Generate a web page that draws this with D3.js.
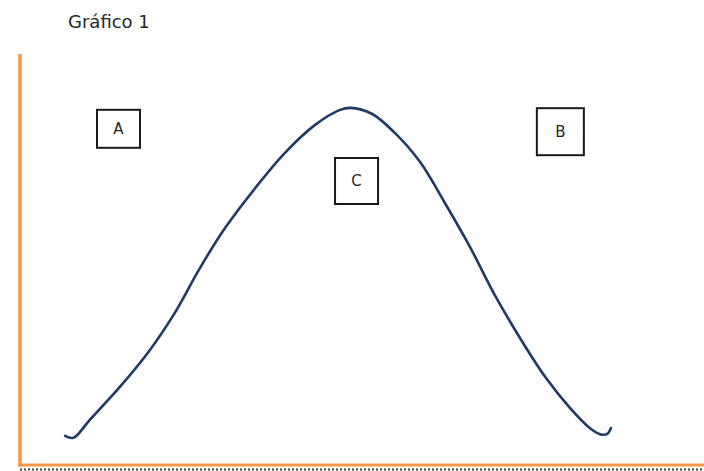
<!DOCTYPE html>
<html>
<head>
<meta charset="utf-8">
<script src="https://cdn.jsdelivr.net/npm/d3@7"></script>
<style>
  html, body { margin: 0; padding: 0; background: #fff; }
  svg { display: block; }
</style>
</head>
<body>
<div id="chart"></div>
<script>
// Curve values (abstract units 0-100 on both axes)
let curveX = [6.6, 7.8, 10.2, 14.6, 19.0, 22.7, 26.3, 30.0, 34.4, 38.7, 43.1, 46.8, 48.3,
              51.5, 54.8, 58.5, 62.1, 65.8, 69.4, 73.1, 76.8, 80.4, 83.3, 84.8, 85.8, 86.4];
let curveY = [7.1, 6.6, 11.0, 19.0, 28.0, 37.2, 47.9, 57.7, 67.4, 75.9, 82.7, 86.4, 86.9,
              85.4, 80.8, 73.7, 63.8, 53.0, 41.4, 30.9, 21.4, 13.9, 9.0, 7.5, 7.5, 9.0];

// Boxed labels and where they sit (same units)
let labels = ["A", "B", "C"];
let labelX = [14.4, 79.0, 49.2];
let labelY = [81.8, 81.1, 69.1];

let title = "Gráfico 1";

let WIDTH = 704,
    HEIGHT = 471,
    LEFT = 20,
    RIGHT = 704,
    TOP = 54,
    BOTTOM = 465;

let svg = d3.select('#chart')
    .append('svg')
    .attr('width', WIDTH)
    .attr('height', HEIGHT);

let x = d3.scaleLinear().domain([0, 100]).range([LEFT, RIGHT]);
let y = d3.scaleLinear().domain([0, 100]).range([BOTTOM, TOP]);

// Title
svg.append('text')
    .attr('x', 68)
    .attr('y', 28)
    .attr('font-family', 'DejaVu Sans, sans-serif')
    .attr('font-size', 18)
    .attr('fill', '#262626')
    .text(title);

// Dotted border under the bottom axis
svg.append('line')
    .attr('x1', x(0))
    .attr('x2', x(100))
    .attr('y1', BOTTOM + 4.5)
    .attr('y2', BOTTOM + 4.5)
    .attr('stroke', '#4a3a30')
    .attr('stroke-width', 2)
    .attr('stroke-dasharray', '2,2');

// Axes (plain orange lines, no ticks)
let axisColor = '#f79646';

svg.append('line')
    .attr('x1', x(0))
    .attr('x2', x(0))
    .attr('y1', y(100))
    .attr('y2', y(0) + 1.5)
    .attr('stroke', axisColor)
    .attr('stroke-width', 3.5);

svg.append('line')
    .attr('x1', x(0) - 1.75)
    .attr('x2', x(100))
    .attr('y1', y(0))
    .attr('y2', y(0))
    .attr('stroke', axisColor)
    .attr('stroke-width', 3);

// The curve
let points = curveX.map((v, i) => [v, curveY[i]]);

let line = d3.line()
    .x(d => x(d[0]))
    .y(d => y(d[1]))
    .curve(d3.curveCatmullRom.alpha(0.5));

svg.append('path')
    .datum(points)
    .attr('d', line)
    .attr('fill', 'none')
    .attr('stroke', '#1f3a63')
    .attr('stroke-width', 2.6)
    .attr('stroke-linecap', 'round')
    .attr('stroke-linejoin', 'round');

// Boxed labels
let boxSize = {A: [43, 38], B: [47, 47], C: [43, 46]};

let box = svg.selectAll('.label-box')
    .data(labels)
    .enter()
    .append('g')
    .classed('label-box', true)
    .attr('transform', (d, i) => `translate(${x(labelX[i])},${y(labelY[i])})`);

box.append('rect')
    .attr('x', d => -boxSize[d][0] / 2)
    .attr('y', d => -boxSize[d][1] / 2)
    .attr('width', d => boxSize[d][0])
    .attr('height', d => boxSize[d][1])
    .attr('fill', '#fff')
    .attr('stroke', '#1a1a1a')
    .attr('stroke-width', 2);

box.append('text')
    .attr('text-anchor', 'middle')
    .attr('dy', '0.36em')
    .attr('font-family', 'DejaVu Sans, sans-serif')
    .attr('font-size', 15)
    .attr('fill', '#262626')
    .text(d => d);
</script>
</body>
</html>
